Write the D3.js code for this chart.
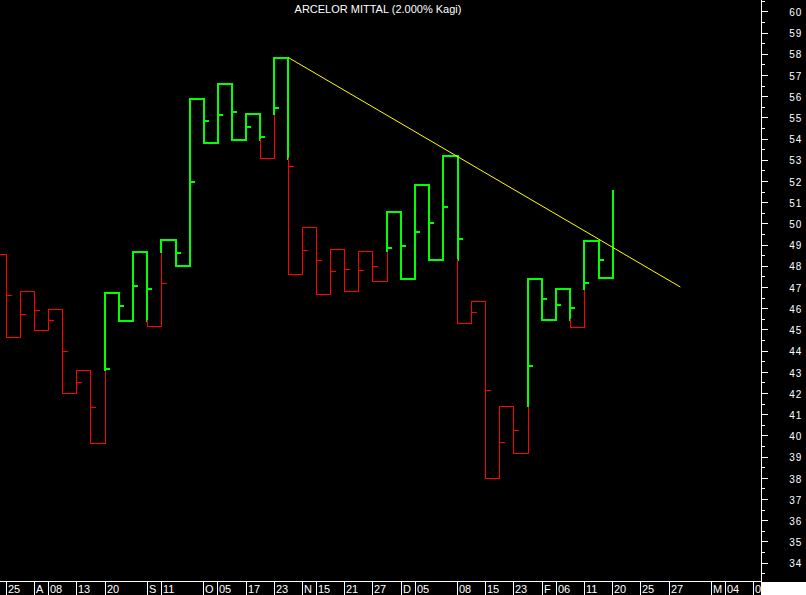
<!DOCTYPE html>
<html><head><meta charset="utf-8">
<script src="https://cdn.jsdelivr.net/npm/d3@7"></script>
<style>html,body{margin:0;padding:0;background:#000;} svg{display:block;}</style>
</head><body><svg id="c" width="806" height="595"></svg>
<script>
// Kagi turning points: column i runs from turnPrices[i] to turnPrices[i+1]
const turnPrices = [48.55, 44.63, 46.80, 44.93, 45.95, 41.99, 43.08, 39.60, 46.74, 45.42,
  48.66, 45.15, 49.22, 48.01, 55.87, 53.81, 56.55, 53.95, 55.18, 53.04,
  57.82, 47.60, 49.82, 46.66, 48.78, 46.80, 48.69, 47.27, 50.53, 47.40,
  51.83, 48.29, 53.20, 45.29, 46.33, 37.98, 41.38, 39.16, 47.40, 45.45,
  46.92, 45.10, 49.19, 47.43, 51.55];
// small marker on each column (column index = position in array)
const tickPrices = [46.61, 45.72, 45.91, 45.43, 43.97, 42.51, 41.33, 43.15, 46.12, 47.07,
  46.91, 47.18, 48.58, 51.96, 54.85, 55.12, 55.23, 54.55, 54.08, 55.45,
  52.70, 48.74, 48.26, 47.75, 47.84, 47.79, 47.98, 48.84, 48.95, 49.61,
  50.04, 50.79, 49.24, 45.81, 42.13, 39.68, 40.25, 43.29, 46.45, 46.17,
  46.03, 47.17, 48.29];
const dateCols = [0, 2, 3, 5, 7, 10, 11, 14, 15, 17, 19, 21, 22, 24, 26, 28, 29, 32, 34, 36, 38, 39, 41, 43, 45, 47, 50, 51, 53];
const dateLabels = ["25", "A", "08", "13", "20", "S", "11", "O", "05", "17", "23", "N", "15", "21", "27", "D", "05", "08", "15", "23", "F", "06", "11", "20", "25", "27", "M", "04", "0"];
const priceTicks = d3.range(34, 61);
const priceMinor = d3.range(33.5, 61, 1);
const trendCols = [20, 47.8];
const trendPrices = [57.82, 47.0];
const title = "ARCELOR MITTAL (2.000% Kagi)";

const W = 806, H = 595, axisX = 761, axisY = 581;
const RED = "#ff0000", GREEN = "#00ff00", YELLOW = "#ffff00";
const FONT = "'Liberation Sans', Arial, sans-serif";

const x = d3.scaleLinear().domain([0, 53]).range([6.3, 753.7]);
const y = d3.scaleLinear().domain([34, 60]).range([562.7, 11.3]);

const svg = d3.select("#c");
svg.append("rect").attr("width", W).attr("height", H).attr("fill", "#000");
svg.append("defs").append("clipPath").attr("id", "clip")
  .append("rect").attr("x", 0).attr("y", 0).attr("width", axisX).attr("height", axisY);
const plot = svg.append("g").attr("clip-path", "url(#clip)");

// build Kagi segments
const segs = [];
const colSegs = [];
let yang = false;
for (let i = 0; i < turnPrices.length - 1; i++) {
  const a = turnPrices[i], b = turnPrices[i + 1];
  const prev = i >= 1 ? turnPrices[i - 1] : null;
  const parts = [];
  if (b > a) {
    if (!yang && prev !== null && b > prev) {
      parts.push({a: a, b: prev, yang: false});
      parts.push({a: prev, b: b, yang: true});
      yang = true;
    } else parts.push({a: a, b: b, yang: yang});
  } else {
    if (yang && prev !== null && b < prev) {
      parts.push({a: a, b: prev, yang: true});
      parts.push({a: prev, b: b, yang: false});
      yang = false;
    } else parts.push({a: a, b: b, yang: yang});
  }
  colSegs.push(parts);
  parts.forEach(p => segs.push({type: "v", col: i, a: p.a, b: p.b, yang: p.yang}));
  if (i < turnPrices.length - 2) segs.push({type: "h", c0: i, c1: i + 1, p: b, yang: yang});
}
// initial connector from off-screen column
segs.unshift({type: "h", c0: -1, c1: 0, p: turnPrices[0], yang: false});

function cx(v, thick) { return thick ? Math.round(v) : Math.floor(v) + 0.5; }

plot.selectAll("line.seg").data(segs).enter().append("line")
  .attr("class", "seg")
  .attr("x1", d => d.type === "v" ? cx(x(d.col), d.yang) : cx(x(d.c0), d.yang))
  .attr("x2", d => d.type === "v" ? cx(x(d.col), d.yang) : cx(x(d.c1), d.yang))
  .attr("y1", d => d.type === "v" ? cx(y(d.a), d.yang) : cx(y(d.p), d.yang))
  .attr("y2", d => d.type === "v" ? cx(y(d.b), d.yang) : cx(y(d.p), d.yang))
  .attr("stroke", d => d.yang ? GREEN : RED)
  .attr("stroke-width", d => d.yang ? 2 : 1)
  .attr("stroke-linecap", "square")
  .attr("shape-rendering", "crispEdges");

// markers
function isYang(col, p) {
  const parts = colSegs[col];
  for (const s of parts) {
    const lo = Math.min(s.a, s.b), hi = Math.max(s.a, s.b);
    if (p >= lo && p <= hi) return s.yang;
  }
  return parts[parts.length - 1].yang;
}
plot.selectAll("line.mk").data(tickPrices).enter().append("line")
  .attr("class", "mk")
  .each(function(p, i) {
    const g = isYang(i, p);
    const x0 = cx(x(i), g);
    d3.select(this)
      .attr("x1", x0).attr("x2", x0 + 5)
      .attr("y1", cx(y(p), g)).attr("y2", cx(y(p), g))
      .attr("stroke", g ? GREEN : RED)
      .attr("stroke-width", g ? 2 : 1)
      .attr("shape-rendering", "crispEdges");
  });

// trendline
plot.append("line")
  .attr("x1", x(trendCols[0])).attr("y1", y(trendPrices[0]))
  .attr("x2", x(trendCols[1])).attr("y2", y(trendPrices[1]))
  .attr("stroke", YELLOW).attr("stroke-width", 1);

// title
svg.append("text").attr("x", 378).attr("y", 13.3)
  .attr("text-anchor", "middle").attr("fill", "#fff")
  .attr("font-family", FONT).attr("font-size", "11px").text(title);

// right axis
const ra = svg.append("g").attr("transform", `translate(${axisX},0)`);
const major = ra.append("g").call(d3.axisRight(y).tickValues(priceTicks).tickSize(7).tickFormat(d3.format("d")));
const minor = ra.append("g").call(d3.axisRight(y).tickValues(priceMinor).tickSize(4).tickFormat(""));
ra.selectAll(".domain").remove();
ra.selectAll("line").attr("stroke", "#fff").attr("shape-rendering", "crispEdges");
major.selectAll("text").attr("x", 41).attr("dy", "0.42em").attr("text-anchor", "end")
  .attr("fill", "#fff").attr("font-family", FONT).attr("font-size", "10px").attr("letter-spacing", "0.8px");
svg.append("line").attr("x1", axisX + 0.5).attr("x2", axisX + 0.5).attr("y1", 0).attr("y2", axisY + 1)
  .attr("stroke", "#fff").attr("shape-rendering", "crispEdges");

// bottom axis
svg.append("line").attr("x1", 0).attr("x2", axisX + 1).attr("y1", axisY + 0.5).attr("y2", axisY + 0.5)
  .attr("stroke", "#fff").attr("shape-rendering", "crispEdges");
const ba = svg.append("g").attr("transform", `translate(0,${axisY})`);
ba.call(d3.axisBottom(x).tickValues(dateCols).tickSize(14).tickFormat((d, i) => dateLabels[i]));
ba.selectAll(".domain").remove();
ba.selectAll(".tick").attr("transform", d => `translate(${Math.floor(x(d)) + 0.5},0)`);
ba.selectAll("line").attr("stroke", "#fff").attr("shape-rendering", "crispEdges");
ba.selectAll("text").attr("x", 1.5).attr("y", 4).attr("dy", "0.71em").attr("text-anchor", "start")
  .attr("fill", "#fff").attr("font-family", FONT).attr("font-size", "11px");
svg.append("rect").attr("x", axisX).attr("y", axisY + 1).attr("width", W - axisX).attr("height", H - axisY - 1)
  .attr("fill", "#fff");
</script>
</body></html>
